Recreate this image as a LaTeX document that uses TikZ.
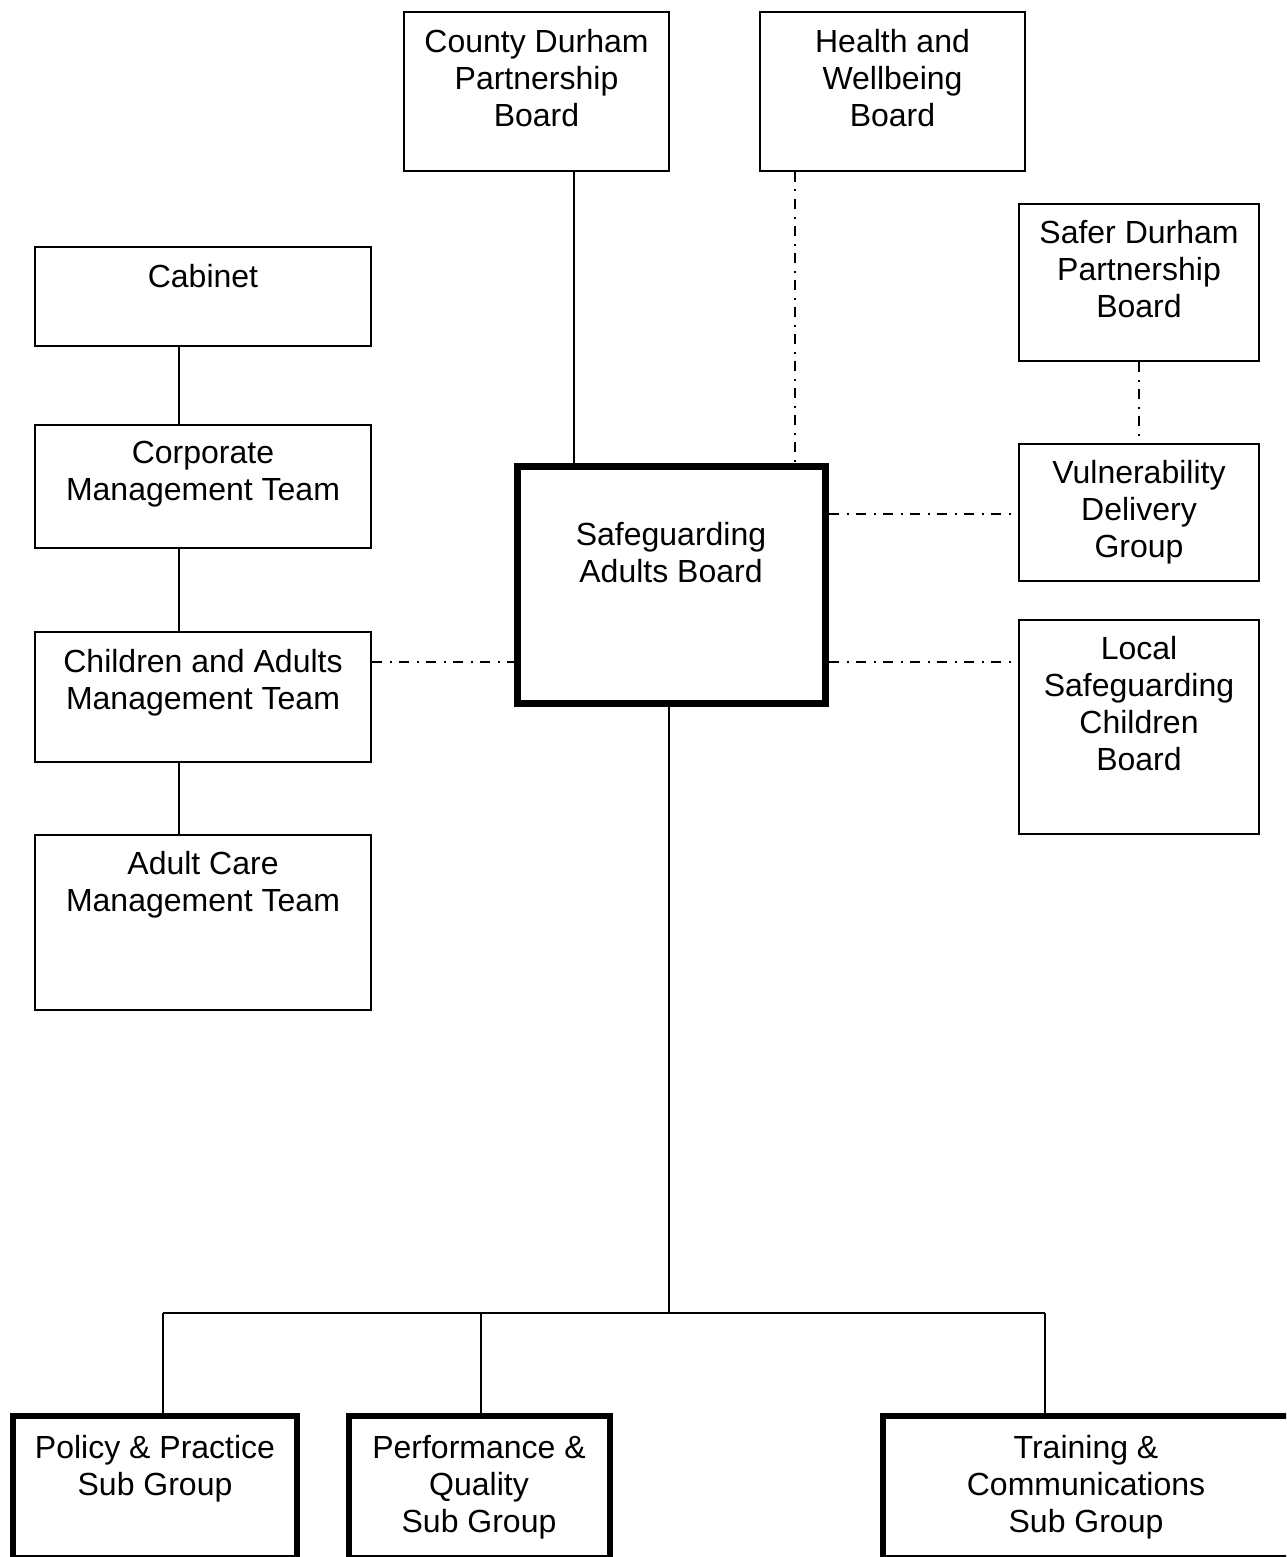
\documentclass[tikz,border=0pt]{standalone}
\usepackage{fontspec}
\setmainfont{Liberation Sans}
\begin{document}
\begin{tikzpicture}[x=1pt,y=1pt,
  box/.style={draw,line width=2pt,inner sep=0pt,rectangle},
  thickbox/.style={draw,line width=6.5pt,inner sep=0pt,rectangle},
  txt/.style={anchor=north,align=center,inner sep=0pt,font=\fontsize{32}{37}\selectfont},
  solidcon/.style={line width=1.8pt},
  dashcon/.style={line width=2pt,dash pattern=on 10pt off 7.5pt on 2pt off 7.5pt}]
\useasboundingbox (0,0) rectangle (1286,-1557);
\clip (0,0) rectangle (1286,-1557);
% boxes
\node[box,minimum width=265pt,minimum height=159pt] (cdpb) at (536.5,-91.5) {};
\node[txt] (cdpbt) at (536.5,-29) {County Durham\\Partnership\\Board};
\node[box,minimum width=265pt,minimum height=159pt] (hwb) at (892.5,-91.5) {};
\node[txt] (hwbt) at (892.5,-29) {Health and\\Wellbeing\\Board};
\node[box,minimum width=240pt,minimum height=157pt] (sdpb) at (1139,-282.5) {};
\node[txt] (sdpbt) at (1139,-220) {Safer Durham\\Partnership\\Board};
\node[box,minimum width=336pt,minimum height=99pt] (cab) at (203,-296.5) {};
\node[txt] (cabt) at (203,-264) {Cabinet};
\node[box,minimum width=336pt,minimum height=123pt] (cmt) at (203,-486.5) {};
\node[txt] (cmtt) at (203,-441) {Corporate\\Management Team};
\node[box,minimum width=336pt,minimum height=130pt] (camt) at (203,-697) {};
\node[txt] (camtt) at (203,-649) {Children and Adults\\Management Team};
\node[box,minimum width=336pt,minimum height=175pt] (acmt) at (203,-922.5) {};
\node[txt] (acmtt) at (203,-851) {Adult Care\\Management Team};
\node[draw,line width=7pt,inner sep=0pt,minimum width=308pt,minimum height=236.5pt] (sab) at (671.5,-584.75) {};
\node[txt] (sabt) at (671,-522) {Safeguarding\\Adults Board};
\node[box,minimum width=240pt,minimum height=137pt] (vdg) at (1139,-512.5) {};
\node[txt] (vdgt) at (1139,-460) {Vulnerability\\Delivery\\Group};
\node[box,minimum width=240pt,minimum height=214pt] (lscb) at (1139,-727) {};
\node[txt] (lscbt) at (1139,-636) {Local\\Safeguarding\\Children\\Board};
\node[thickbox,minimum width=284pt,minimum height=142pt] (pp) at (155,-1487) {};
\node[txt] (ppt) at (155,-1435) {Policy \& Practice\\Sub Group};
\node[thickbox,minimum width=261pt,minimum height=142pt] (pq) at (479.5,-1487) {};
\node[txt] (pqt) at (479,-1435) {Performance \&\\Quality\\Sub Group};
\node[thickbox,minimum width=407pt,minimum height=142pt] (tc) at (1086.5,-1487) {};
\node[txt] (tct) at (1086,-1435) {Training \&\\Communications\\Sub Group};
% helper coordinates
\coordinate (xa) at (574,0);
\coordinate (xb) at (795,0);
\coordinate (xc) at (179,0);
\coordinate (xd) at (669,0);
\coordinate (y1) at (0,-662);
\coordinate (y2) at (0,-514);
\coordinate (bus) at (669,-1313);
\coordinate (busl) at (163,-1313);
\coordinate (busr) at (1045,-1313);
\coordinate (xp) at (481,0);
% solid connectors
\draw[solidcon] (cdpb.south -| xa) -- (sab.north -| xa);
\draw[solidcon] (cab.south -| xc) -- (cmt.north -| xc);
\draw[solidcon] (cmt.south -| xc) -- (camt.north -| xc);
\draw[solidcon] (camt.south -| xc) -- (acmt.north -| xc);
\draw[solidcon] (sab.south -| xd) -- (bus);
\draw[solidcon] (busl) -- (busr);
\draw[solidcon] (busl) -- (pp.north -| busl);
\draw[solidcon] (xp |- bus) -- (pq.north -| xp);
\draw[solidcon] (busr) -- (tc.north -| busr);
% dash-dot connectors
\draw[dashcon] (hwb.south -| xb) -- (sab.north -| xb);
\draw[dashcon] (sdpb.south) -- (vdg.north);
\draw[dashcon] (camt.east |- y1) -- (sab.west |- y1);
\draw[dashcon] (sab.east |- y2) -- (vdg.west |- y2);
\draw[dashcon] (sab.east |- y1) -- (lscb.west |- y1);
\end{tikzpicture}
\end{document}
